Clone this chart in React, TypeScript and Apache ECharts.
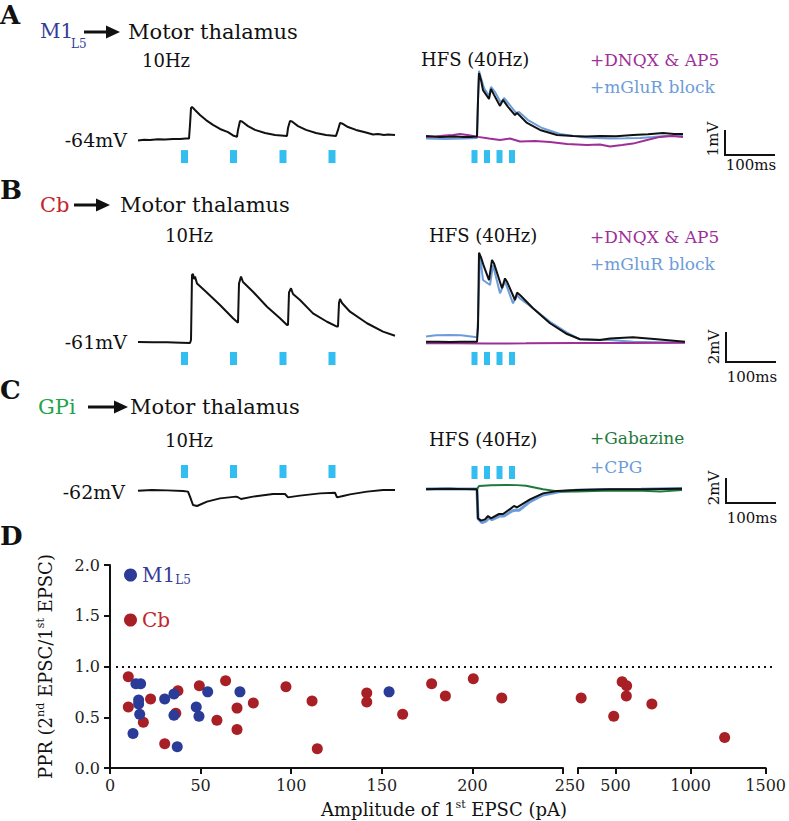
import React, { useEffect, useRef } from "react";
import * as echarts from "echarts";

// ---------- Panel A (M1 L5 -> motor thalamus), [time ms, mV from rest] ----------
const A_10HZ = [[0,-0.02],[12,0.01],[24,0],[40,0.03],[54,0.02],[70,0.04],[84,0.04],[96,0.06],[102,0.06],[104,0.63],[106,1.33],[108,1.38],[114,1.25],[124,1.04],[136,0.83],[150,0.63],[164,0.46],[180,0.33],[190,0.19],[198,0.13],[200,0.42],[204,0.79],[208,0.77],[220,0.58],[234,0.42],[254,0.29],[274,0.21],[286,0.19],[298,0.17],[300,0.5],[304,0.79],[308,0.77],[320,0.58],[336,0.42],[356,0.29],[376,0.21],[396,0.17],[400,0.42],[404,0.71],[408,0.69],[420,0.54],[436,0.42],[456,0.31],[470,0.23],[480,0.25],[492,0.21],[500,0.23],[514,0.21]];
const A_HFS_CTRL = [[0,0.17],[14,0.15],[28,0.13],[44,0.14],[58,0.15],[74,0.12],[88,0.13],[102,0.15],[104,1.67],[106,2.79],[110,2.5],[114,2.08],[126,1.71],[130,2.13],[136,1.88],[148,1.42],[154,1.67],[164,1.38],[178,1.04],[182,1.13],[202,0.71],[228,0.42],[262,0.21],[294,0.17],[320,0.15],[348,0.17],[380,0.16],[414,0.21],[444,0.24],[474,0.29],[496,0.25],[514,0.25]];
const A_HFS_MGLUR = [[0,0.06],[20,0.05],[38,0.04],[58,0.05],[78,0.06],[102,0.08],[104,1.67],[106,2.88],[110,2.58],[116,2.17],[126,1.83],[130,2.21],[138,2.0],[150,1.54],[156,1.75],[166,1.5],[180,1.13],[186,1.17],[204,0.83],[232,0.5],[268,0.25],[308,0.13],[340,0.08],[368,0.06],[400,0.07],[428,0.08],[454,0.12],[478,0.17],[500,0.18],[514,0.19]];
const A_HFS_DNQX = [[0,0.13],[20,0.15],[38,0.19],[54,0.21],[68,0.25],[86,0.2],[104,0.13],[126,0.06],[148,0],[168,0.06],[188,-0.06],[218,-0.04],[248,-0.08],[282,-0.17],[322,-0.21],[348,-0.19],[368,-0.27],[392,-0.21],[414,-0.15],[442,0],[468,0.13],[492,0.17],[514,0.13]];

// ---------- Panel B (Cb -> motor thalamus) ----------
const B_10HZ = [[0,0],[30,-0.01],[58,-0.02],[86,-0.05],[104,-0.07],[106,0.13],[108,4.47],[110,4.53],[112,4.2],[114,4.36],[118,3.9],[136,3.35],[164,2.47],[190,1.58],[200,1.29],[202,3.9],[206,4.36],[210,4.0],[230,3.35],[258,2.35],[284,1.58],[298,1.13],[300,1.13],[302,3.3],[306,3.58],[310,3.2],[324,2.8],[350,1.91],[378,1.35],[398,1.02],[400,1.05],[402,2.6],[404,2.87],[408,2.6],[424,2.02],[458,1.25],[490,0.69],[514,0.42]];
const B_HFS_CTRL = [[0,0.02],[24,0.02],[48,0],[70,0.02],[102,0.02],[104,1.0],[106,5.95],[110,5.64],[116,5.02],[126,4.13],[132,5.47],[136,5.24],[152,3.58],[158,4.24],[162,4.02],[178,2.8],[182,3.29],[188,3.13],[214,2.25],[248,1.25],[282,0.53],[308,0.18],[348,0.13],[368,0.24],[414,0.31],[462,0.18],[518,0.02]];
const B_HFS_MGLUR = [[0,0.36],[20,0.45],[48,0.47],[70,0.45],[82,0.4],[102,0.31],[104,1.5],[108,5.8],[114,4.13],[128,3.8],[134,5.13],[148,3.25],[158,4.02],[174,2.58],[182,3.13],[188,2.9],[214,2.25],[248,1.35],[282,0.62],[308,0.18],[368,0.13],[414,0.02],[482,-0.04],[518,-0.02]];
const B_HFS_DNQX = [[0,-0.09],[60,-0.08],[120,-0.1],[200,-0.09],[300,-0.07],[400,-0.06],[518,-0.05]];

// ---------- Panel C (GPi -> motor thalamus) ----------
const C_10HZ = [[0,0.02],[28,0.08],[58,0.05],[90,0],[100,-0.05],[104,-0.45],[110,-1.12],[118,-1.2],[138,-0.85],[164,-0.59],[196,-0.45],[200,-0.5],[206,-0.64],[230,-0.45],[270,-0.24],[294,-0.24],[300,-0.51],[310,-0.45],[324,-0.37],[364,-0.19],[394,-0.14],[398,-0.51],[410,-0.4],[424,-0.27],[458,-0.05],[490,0.08],[514,0.08]];
const C_HFS_CTRL = [[0,0.14],[20,0.16],[48,0.18],[80,0.15],[100,0.14],[102,0.1],[104,-2.19],[110,-2.37],[118,-2.27],[124,-2.0],[130,-2.19],[146,-1.84],[154,-1.84],[170,-1.39],[176,-1.2],[182,-1.31],[208,-0.67],[234,-0.19],[262,0],[302,0.08],[368,0.14],[434,0.14],[476,0.16],[512,0.18]];
const C_HFS_CPG = [[0,0.16],[30,0.18],[60,0.16],[100,0.16],[102,0.1],[104,-2.2],[112,-2.53],[120,-2.4],[126,-2.15],[132,-2.3],[148,-2.0],[156,-2.0],[172,-1.6],[180,-1.52],[186,-1.55],[208,-0.85],[234,-0.32],[268,-0.05],[300,0.06],[360,0.12],[430,0.14],[480,0.18],[512,0.2]];
const C_HFS_GABAZINE = [[0,0.16],[40,0.17],[80,0.16],[102,0.15],[106,0.4],[130,0.46],[160,0.48],[182,0.47],[200,0.42],[234,0.14],[268,-0.05],[302,-0.04],[368,0.03],[434,0.02],[468,-0.05],[512,0.08]];

// stimulus times (ms)
const PULSES_10HZ = [93, 191, 290, 388];
const PULSES_HFS = [97, 122, 147, 172];

// ---------- Panel D ----------
const M1_AMP = [14.3, 16.9, 15.8, 15.8, 16.4, 12.7, 30.2, 35.3, 35.3, 37.1, 47.6, 49.1, 53.9, 71.7, 154];
const M1_PPR = [0.83, 0.83, 0.67, 0.63, 0.53, 0.34, 0.68, 0.73, 0.52, 0.21, 0.6, 0.51, 0.75, 0.75, 0.75];
const CB_AMP = [10.1, 10.1, 22.4, 18.4, 30.2, 37.5, 36.3, 49.3, 59.0, 63.8, 70.1, 70.1, 79.1, 97.1, 111.5, 114.4, 141.7, 141.7, 161.5, 177.5, 185.1, 200.5, 216.2, 271, 488, 544, 574, 572, 742, 1227];
const CB_PPR = [0.9, 0.6, 0.68, 0.45, 0.24, 0.76, 0.54, 0.81, 0.47, 0.86, 0.59, 0.38, 0.64, 0.8, 0.66, 0.19, 0.74, 0.65, 0.53, 0.83, 0.71, 0.88, 0.69, 0.69, 0.51, 0.85, 0.81, 0.71, 0.63, 0.3];
const X_BREAK = 250;
const X_TICKS_LOW = [0, 50, 100, 150, 200, 250];
const X_TICKS_HIGH = [250, 500, 1000, 1500];
const X_LABELS_HIGH = [500, 1000, 1500];
const UNITY_PPR = 1.0;

const FONT = "'DejaVu Serif', 'Liberation Serif', serif";
const BLACK = "#111";
const C_M1 = "#353c97";
const C_CB = "#c3262e";
const C_GPI = "#1ea44b";
const C_DNQX = "#9d2f97";
const C_MGLUR = "#6c9cd9";
const C_GABA = "#1d7a3c";
const C_PULSE = "#00aeef";
const DOT_BLUE = "#2b3b98";
const DOT_RED = "#a81f25";

function txt(text: string, x: number, y: number, size: number, color = BLACK, extra: any = {}) {
  return {
    type: "text", x, y, silent: true, rotation: extra.rotation || 0,
    style: {
      text, fontFamily: FONT, fontSize: size, fill: color,
      align: extra.align || "left", verticalAlign: "middle",
      fontWeight: extra.weight || "normal",
    },
  };
}
function arrow(x1: number, x2: number, y: number) {
  return [
    { type: "line", silent: true, shape: { x1, y1: y, x2: x2 - 12, y2: y }, style: { stroke: BLACK, lineWidth: 3 } },
    { type: "polygon", silent: true, shape: { points: [[x2 - 14, y - 6.5], [x2, y], [x2 - 14, y + 6.5]] }, style: { fill: BLACK } },
  ];
}
function scaleBar(x: number, yTop: number, yBot: number, vLabel: string, labelY: number, msY: number) {
  return [
    { type: "polyline", silent: true, shape: { points: [[x, yTop], [x, yBot], [x + 50, yBot]] }, style: { stroke: BLACK, lineWidth: 2, fill: null } },
    txt(vLabel, x - 12, labelY, 15, BLACK, { rotation: Math.PI / 2, align: "center" }),
    txt("100ms", x + 26, msY, 15, BLACK, { align: "center" }),
  ];
}

export default function App() {
  const ref = useRef<HTMLDivElement>(null);
  useEffect(() => {
    if (!ref.current) return;
    const chart = echarts.init(ref.current, null, { renderer: "svg" });

    const traceGrids = [
      { left: 138, top: 56, width: 260, height: 108, min: -1, max: 3.5 },
      { left: 426, top: 56, width: 260, height: 108, min: -1, max: 3.5 },
      { left: 138, top: 246, width: 260, height: 120, min: -1.6, max: 6.4 },
      { left: 426, top: 246, width: 260, height: 120, min: -1.6, max: 6.4 },
      { left: 138, top: 463.5, width: 260, height: 65, min: -3, max: 2.2 },
      { left: 426, top: 463.5, width: 260, height: 65, min: -3, max: 2.2 },
    ];
    const grid: any[] = traceGrids.map((g) => ({ left: g.left, top: g.top, width: g.width, height: g.height }));
    grid.push({ left: 110, top: 565, width: 453, height: 203 });
    grid.push({ left: 578, top: 565, width: 194, height: 203 });
    grid.push({ left: 116, top: 565, width: 656, height: 203 });

    const xAxis: any[] = traceGrids.map((_, i) => ({ type: "value", gridIndex: i, min: 0, max: 520, show: false }));
    const yAxis: any[] = traceGrids.map((g, i) => ({ type: "value", gridIndex: i, min: g.min, max: g.max, show: false }));

    const axisLine = { show: true, lineStyle: { color: BLACK, width: 2 } };
    const axisTick = { show: true, length: 6, lineStyle: { color: BLACK, width: 2 } };
    const axisLabelStyle = { fontFamily: FONT, fontSize: 16, color: "#222" };
    const nameRich = {
      n: { fontFamily: FONT, fontSize: 18, color: BLACK },
      sup: { fontFamily: FONT, fontSize: 11, color: BLACK, padding: [0, 0, 10, 0] },
    };

    xAxis.push({
      type: "value", gridIndex: 6, min: 0, max: X_BREAK, interval: 50,
      axisLine, axisTick: { ...axisTick, customValues: X_TICKS_LOW },
      axisLabel: {
        ...axisLabelStyle, margin: 9, customValues: X_TICKS_LOW,
        formatter: (v: number) => (v === X_BREAK ? "{r|" + v + "}" : String(v)),
        rich: { r: { fontFamily: FONT, fontSize: 16, color: "#222", padding: [0, 0, 0, 14] } },
      },
      splitLine: { show: false },
    });
    xAxis.push({
      type: "value", gridIndex: 7, min: X_BREAK, max: 1500,
      axisLine, axisTick: { ...axisTick, customValues: X_TICKS_HIGH },
      axisLabel: { ...axisLabelStyle, margin: 9, customValues: X_LABELS_HIGH, formatter: (v: number) => String(v) },
      splitLine: { show: false },
    });
    xAxis.push({
      type: "value", gridIndex: 8, min: 0, max: 1,
      axisLine: { show: false }, axisTick: { show: false }, axisLabel: { show: false }, splitLine: { show: false },
      name: "{n|Amplitude of 1}{sup|st}{n| EPSC (pA)}", nameLocation: "middle", nameGap: 31,
      nameTextStyle: { fontFamily: FONT, fontSize: 18, color: BLACK, rich: nameRich },
    });
    yAxis.push({
      type: "value", gridIndex: 6, min: 0, max: 2, interval: 0.5,
      axisLine, axisTick,
      axisLabel: { ...axisLabelStyle, margin: 10, formatter: (v: number) => v.toFixed(1) },
      splitLine: { show: false },
      name: "{n|PPR (2}{sup|nd}{n| EPSC/1}{sup|st}{n| EPSC)}", nameLocation: "middle", nameGap: 54,
      nameTextStyle: { fontFamily: FONT, fontSize: 18, color: BLACK, rich: nameRich },
    });
    yAxis.push({ type: "value", gridIndex: 7, min: 0, max: 2, show: false });
    yAxis.push({ type: "value", gridIndex: 8, min: 0, max: 2, show: false });

    const trace = (data: number[][], gi: number, color: string, width: number, z: number) => ({
      type: "line", xAxisIndex: gi, yAxisIndex: gi, data, symbol: "none", silent: true, z,
      lineStyle: { color, width }, itemStyle: { color }, emphasis: { disabled: true },
    });
    const pulses = (times: number[], gi: number, yLevel: number, w: number) => ({
      type: "scatter", xAxisIndex: gi, yAxisIndex: gi, silent: true, z: 3,
      data: times.map((t) => [t, yLevel]), symbol: "rect", symbolSize: [w, 13],
      itemStyle: { color: C_PULSE },
    });

    const cbLow = CB_AMP.map((a, i) => [a, CB_PPR[i]]).filter((p) => p[0] <= X_BREAK);
    const cbHigh = CB_AMP.map((a, i) => [a, CB_PPR[i]]).filter((p) => p[0] > X_BREAK);
    const m1Low = M1_AMP.map((a, i) => [a, M1_PPR[i]]).filter((p) => p[0] <= X_BREAK);

    const series: any[] = [
      trace(A_10HZ, 0, BLACK, 2, 5),
      trace(A_HFS_MGLUR, 1, C_MGLUR, 2, 3),
      trace(A_HFS_DNQX, 1, C_DNQX, 2, 4),
      trace(A_HFS_CTRL, 1, BLACK, 2, 5),
      pulses(PULSES_10HZ, 0, -0.69, 7),
      pulses(PULSES_HFS, 1, -0.69, 6),
      trace(B_10HZ, 2, BLACK, 2, 5),
      trace(B_HFS_MGLUR, 3, C_MGLUR, 2, 3),
      trace(B_HFS_DNQX, 3, C_DNQX, 2, 4),
      trace(B_HFS_CTRL, 3, BLACK, 2, 5),
      pulses(PULSES_10HZ, 2, -1.1, 7),
      pulses(PULSES_HFS, 3, -1.1, 6),
      trace(C_10HZ, 4, BLACK, 2, 5),
      trace(C_HFS_CPG, 5, C_MGLUR, 3, 3),
      trace(C_HFS_GABAZINE, 5, C_GABA, 2, 4),
      trace(C_HFS_CTRL, 5, BLACK, 2, 5),
      pulses(PULSES_10HZ, 4, 1.56, 7),
      pulses(PULSES_HFS, 5, 1.48, 6),
      {
        type: "scatter", xAxisIndex: 8, yAxisIndex: 8, data: [], silent: true,
        markLine: {
          silent: true, symbol: "none", label: { show: false },
          lineStyle: { color: BLACK, width: 2, type: [2, 4] },
          data: [{ yAxis: UNITY_PPR }],
        },
      },
      {
        name: "Cb", type: "scatter", xAxisIndex: 6, yAxisIndex: 6, data: cbLow,
        symbolSize: 11, itemStyle: { color: DOT_RED, opacity: 1 }, z: 4,
      },
      {
        name: "Cb", type: "scatter", xAxisIndex: 7, yAxisIndex: 7, data: cbHigh,
        symbolSize: 11, itemStyle: { color: DOT_RED, opacity: 1 }, z: 4,
      },
      {
        name: "M1L5", type: "scatter", xAxisIndex: 6, yAxisIndex: 6, data: m1Low,
        symbolSize: 11, itemStyle: { color: DOT_BLUE, opacity: 1 }, z: 5,
      },
    ];

    const graphic: any[] = [
      txt("A", 0, 15, 26, BLACK, { weight: "bold" }),
      txt("B", 0, 190, 26, BLACK, { weight: "bold" }),
      txt("C", 0, 390, 26, BLACK, { weight: "bold" }),
      txt("D", 0, 536, 26, BLACK, { weight: "bold" }),
      // titles
      txt("M1", 40, 31, 20, C_M1),
      txt("L5", 71, 44, 12, C_M1),
      ...arrow(84, 120, 32),
      txt("Motor thalamus", 128, 32, 21),
      txt("Cb", 40, 205, 21, C_CB),
      ...arrow(74, 110, 205),
      txt("Motor thalamus", 120, 205, 21),
      txt("GPi", 38, 407, 21, C_GPI),
      ...arrow(88, 128, 407),
      txt("Motor thalamus", 130, 407, 21),
      // condition labels
      txt("10Hz", 142, 60, 18),
      txt("HFS (40Hz)", 421, 59, 18),
      txt("+DNQX & AP5", 590, 60, 17, C_DNQX),
      txt("+mGluR block", 590, 87, 17, C_MGLUR),
      txt("10Hz", 165, 235, 18),
      txt("HFS (40Hz)", 429, 235, 18),
      txt("+DNQX & AP5", 590, 237, 17, C_DNQX),
      txt("+mGluR block", 590, 264, 17, C_MGLUR),
      txt("10Hz", 165, 440, 18),
      txt("HFS (40Hz)", 429, 439, 18),
      txt("+Gabazine", 590, 438, 17, C_GABA),
      txt("+CPG", 590, 467, 17, C_MGLUR),
      // resting potentials
      txt("-64mV", 127, 140, 19, BLACK, { align: "right" }),
      txt("-61mV", 127, 342, 19, BLACK, { align: "right" }),
      txt("-62mV", 125, 492, 19, BLACK, { align: "right" }),
      // scale bars
      ...scaleBar(725, 130, 155, "1mV", 139, 165),
      ...scaleBar(726, 332, 362, "2mV", 347, 377),
      ...scaleBar(726, 478, 503, "2mV", 488, 518),
    ];

    chart.setOption({
      animation: false,
      backgroundColor: "#fff",
      grid, xAxis, yAxis, series, graphic,
      legend: {
        orient: "vertical", left: 124, top: 565, padding: 0, itemGap: 24, itemWidth: 13, itemHeight: 13,
        icon: "circle", selectedMode: false,
        data: [
          { name: "M1L5", textStyle: { color: C_M1 } },
          { name: "Cb", textStyle: { color: C_CB } },
        ],
        formatter: (n: string) => (n === "M1L5" ? "{m|M1}{s|L5}" : "{c|Cb}"),
        textStyle: {
          fontFamily: FONT, fontSize: 20,
          rich: {
            m: { fontFamily: FONT, fontSize: 20, color: C_M1 },
            s: { fontFamily: FONT, fontSize: 12, color: C_M1, padding: [10, 0, 0, 0] },
            c: { fontFamily: FONT, fontSize: 20, color: C_CB },
          },
        },
      },
    });
    return () => chart.dispose();
  }, []);
  return (
    <div
      ref={ref}
      style={{ position: "absolute", left: 0, top: 0, width: 789, height: 821, background: "#fff" }}
    />
  );
}
